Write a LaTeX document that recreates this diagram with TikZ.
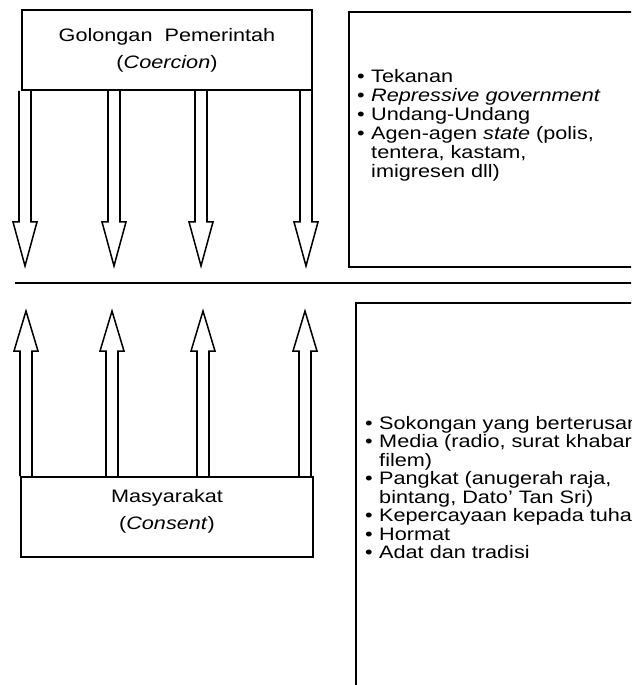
\documentclass[tikz,border=0pt]{standalone}
\usepackage{fontspec}
\setmainfont{Liberation Sans}[FakeStretch=1.2]
\usetikzlibrary{positioning,calc}
\tikzstyle{box}=[draw,line width=1.6pt,inner sep=0pt,align=center]
\tikzstyle{blockarrow}=[line width=1.3pt,line join=miter]
\tikzstyle{list}=[anchor=north west,align=left,inner sep=0pt]
\newcommand{\bul}{\makebox[0.42cm][l]{\textbullet}}
\newcommand{\ind}{\hspace*{0.42cm}}

\begin{document}
\begin{tikzpicture}[x=0.03cm,y=-0.03cm,font=\fontsize{15.4}{23}\selectfont]

  \useasboundingbox (0,0) rectangle (631,685);
  \clip (0,0) rectangle (631,685);

  % government box
  \node[box,minimum width=8.7cm,minimum height=2.4cm] (gov) at (167,50) {Golongan\ \ Pemerintah\\(\textit{Coercion})};

  % coercion list
  \node[box,anchor=north west,minimum width=9.4cm,minimum height=7.65cm] (coerbox) at (348,11) {};
  \node[list,font=\fontsize{15.4}{16.2}\selectfont] (coerlist) at (357,69) {\bul Tekanan\\
    \bul\textit{Repressive government}\\
    \bul Undang-Undang\\
    \bul Agen-agen \textit{state} (polis,\\
    \ind tentera, kastam,\\
    \ind imigresen dll)};

  % arrows down
  \foreach \x in {25,114,201,306} {
    \draw[blockarrow] (\x,0 |- gov.south) ++(-6,0) -- ++(0,131) -- ++(-6,0) -- ++(12,44) -- ++(12,-44) -- ++(-6,0) -- ++(0,-131);
  }

  % divider
  \draw[line width=1.6pt] (15,283) -- (640,283);

  % society box
  \node[box,minimum width=8.76cm,minimum height=2.4cm] (soc) at (167,517) {};
  \node[align=center,inner sep=0pt] (soctext) at (167,511) {Masyarakat\\(\textit{Consent})};

  % arrows up
  \foreach \x in {26,112,203,305} {
    \draw[blockarrow] (\x,0 |- soc.north) ++(-6,0) -- ++(0,-125) -- ++(-6,0) -- ++(12,-40) -- ++(12,40) -- ++(-6,0) -- ++(0,125);
  }

  % consent list
  \node[box,anchor=north west,minimum width=9cm,minimum height=12cm] (consbox) at (355,302) {};
  \node[list,font=\fontsize{15.4}{15.8}\selectfont] (conslist) at (365,416) {\bul Sokongan yang berterusan\\
    \bul Media (radio, surat khabar,\\
    \ind filem)\\
    \bul Pangkat (anugerah raja,\\
    \ind bintang, Dato' Tan Sri)\\
    \bul Kepercayaan kepada tuhan\\
    \bul Hormat\\
    \bul Adat dan tradisi};

\end{tikzpicture}
\end{document}
